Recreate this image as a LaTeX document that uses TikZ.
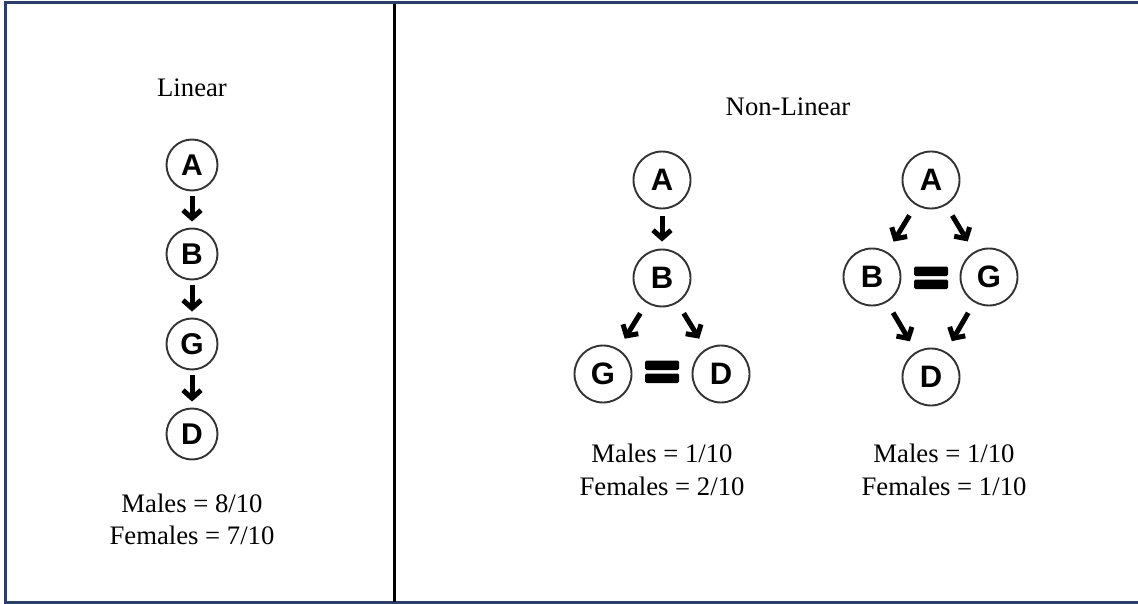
\documentclass[tikz,border=0pt]{standalone}
\usepackage{fontspec}
\setmainfont{Liberation Serif}
\newfontfamily\lettersans{Liberation Sans}
\usetikzlibrary{arrows.meta,calc}
\definecolor{framenavy}{HTML}{2B4068}
\begin{document}
\begin{tikzpicture}[x=1pt,y=-1pt,
  caption/.style={font=\fontsize{26.7}{32}\selectfont, inner sep=0pt, anchor=base},
  smallcirc/.style={circle, draw=black!80, line width=1.9pt, minimum size=51pt, inner sep=0pt,
    font=\lettersans\bfseries\fontsize{30}{30}\selectfont},
  bigcirc/.style={smallcirc, minimum size=57pt, font=\lettersans\bfseries\fontsize{31}{31}\selectfont},
  arr/.style={-{Straight Barb[length=8pt,width=18pt]}, line width=5pt, black},
  eqbar/.style={fill=black, rounded corners=1.5pt}
]
\useasboundingbox (0,0) rectangle (1138,604);

% frame and divider
\draw[framenavy, line width=3pt] (1138,2.5) -- (5.4,2.5) -- (5.4,602.6) -- (1138,602.6);
\draw[black, line width=3pt] (394.3,4) -- (394.3,601.5);

% ---------- linear chain ----------
\node[caption] (tlin) at (192,97) {Linear};
\node[smallcirc] (la) at (192,165) {A};
\node[smallcirc] (lb) at (192,254) {B};
\node[smallcirc] (lg) at (192,344) {G};
\node[smallcirc] (ld) at (192,434) {D};
\draw[arr, shorten <=4.5pt, shorten >=6pt] (la) -- (lb);
\draw[arr, shorten <=4.5pt, shorten >=6pt] (lb) -- (lg);
\draw[arr, shorten <=4.5pt, shorten >=6pt] (lg) -- (ld);
\node[caption] (lm) at (192,512) {Males = 8/10};
\node[caption] (lf) at (192,544) {Females = 7/10};

% ---------- non-linear ----------
\node[caption] (tnon) at (788,116) {Non-Linear};

% first pattern
\node[bigcirc] (pa) at (662,180) {A};
\node[bigcirc] (pb) at (662,278) {B};
\node[bigcirc] (pg) at (603,374) {G};
\node[bigcirc] (pd) at (721,374) {D};
\draw[arr, shorten <=7pt, shorten >=7pt] (pa) -- (pb);
\draw[arr, shorten <=12pt, shorten >=12pt] (pb) -- (pg);
\draw[arr, shorten <=12pt, shorten >=12pt] (pb) -- (pd);
\fill[eqbar] (645,360.5) rectangle (679,370);
\fill[eqbar] (645,373.5) rectangle (679,383);
\node[caption] (pm) at (662,462) {Males = 1/10};
\node[caption] (pf) at (662,495) {Females = 2/10};

% second pattern
\node[bigcirc] (qa) at (931,180) {A};
\node[bigcirc] (qb) at (872,277) {B};
\node[bigcirc] (qg) at (989,277) {G};
\node[bigcirc] (qd) at (931,377) {D};
\draw[arr, shorten <=12pt, shorten >=12pt] (qa) -- (qb);
\draw[arr, shorten <=12pt, shorten >=12pt] (qa) -- (qg);
\draw[arr, shorten <=12pt, shorten >=12pt] (qb) -- (qd);
\draw[arr, shorten <=12pt, shorten >=12pt] (qg) -- (qd);
\fill[eqbar] (914,266.5) rectangle (948,276);
\fill[eqbar] (914,279.5) rectangle (948,289);
\node[caption] (qm) at (944,462) {Males = 1/10};
\node[caption] (qf) at (944,495) {Females = 1/10};
\end{tikzpicture}
\end{document}
